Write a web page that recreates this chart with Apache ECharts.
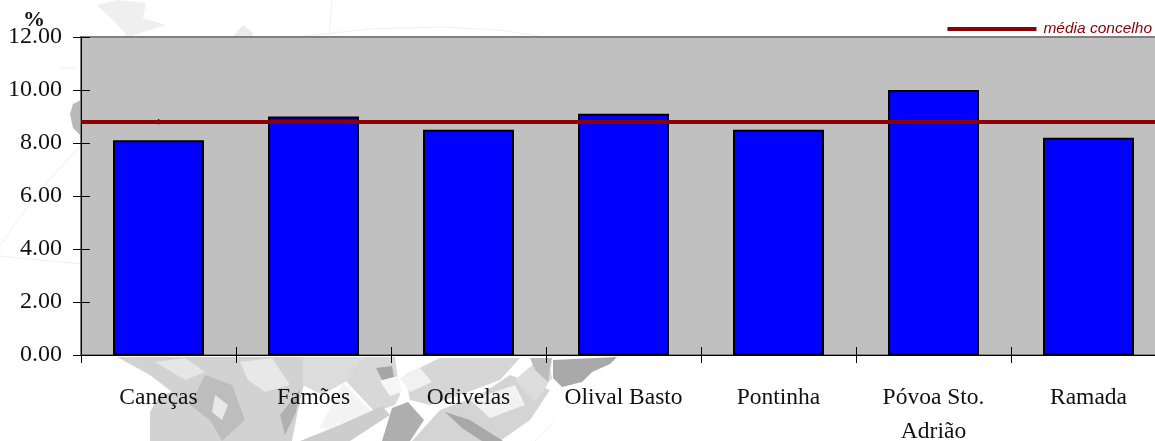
<!DOCTYPE html>
<html>
<head>
<meta charset="utf-8">
<style>html,body{margin:0;padding:0;background:#fff}#chart{width:1155px;height:441px}</style>
<script src="https://cdn.jsdelivr.net/npm/echarts@6/dist/echarts.min.js"></script>
</head>
<body>
<div id="chart"></div>
<script>
const categories = ['Caneças', 'Famões', 'Odivelas', 'Olival Basto', 'Pontinha', 'Póvoa Sto.\nAdrião', 'Ramada'];
const values = [8.1, 9.0, 8.5, 9.1, 8.5, 10.0, 8.2];
const concelhoMean = 8.8;
const meanName = 'média concelho';
const meanMarker = [8.8, null, null, null, null, null, null];

// Faint parish map behind the chart: [fill, outline points]
const mapPatches = [
  ['#efefef', [[97,5],[118,0],[146,3],[143,18],[166,25],[128,37],[115,22]]],
  ['#ebebeb', [[233,37],[243,25],[253,33],[252,37]]],
  ['#b9b9b9', [[81,100],[73,104],[70,114],[73,128],[81,136]]],
  ['#d2d2d2', [[117,357],[303,357],[305,380],[298,410],[292,441],[150,441],[150,412],[160,395],[172,392],[150,375]]],
  ['#bdbdbd', [[205,375],[232,385],[245,420],[222,441],[210,420],[190,405]]],
  ['#e6e6e6', [[155,362],[185,358],[205,372],[185,380]]],
  ['#e8e8e8', [[215,395],[228,405],[222,420],[212,412]]],
  ['#e8e8e8', [[240,362],[272,358],[290,385],[265,392],[248,380]]],
  ['#b0b0b0', [[280,415],[300,390],[296,412],[285,435]]],
  ['#dcdcdc', [[303,357],[365,357],[345,382],[322,395],[303,385]]],
  ['#f4f4f4', [[343,383],[375,415],[345,430],[320,428]]],
  ['#d8d8d8', [[345,380],[365,357],[395,357],[400,395],[395,405],[375,412]]],
  ['#a6a6a6', [[376,368],[392,366],[394,377],[382,380]]],
  ['#f6f6f6', [[380,381],[398,376],[402,392],[390,396]]],
  ['#aeaeae', [[392,408],[408,402],[424,420],[410,441],[382,441]]],
  ['#cdcdcd', [[300,441],[340,425],[382,406],[390,415],[350,441]]],
  ['#d6d6d6', [[405,375],[440,358],[520,358],[500,380],[460,395],[430,405],[410,400]]],
  ['#f1f1f1', [[400,378],[420,368],[432,382],[410,392]]],
  ['#d4d4d4', [[412,441],[440,410],[480,395],[510,375],[550,390],[530,420],[500,441]]],
  ['#a8a8a8', [[445,412],[470,420],[503,441],[482,441],[462,428]]],
  ['#f2f2f2', [[470,400],[515,385],[525,405],[490,418]]],
  ['#dcdcdc', [[515,380],[538,360],[548,358],[552,378],[535,402]]],
  ['#a9a9a9', [[553,360],[617,357],[610,364],[592,372],[582,382],[562,387],[553,378]]],
  ['#bcbcbc', [[530,358],[552,358],[548,382],[535,370]]]
];
// Thin boundary strokes of the same map
const mapLines = [
  [[0,245],[40,190],[81,145]],
  [[0,256],[81,264]],
  [[296,37],[370,29],[440,27],[500,30],[545,37]],
  [[332,0],[329,37]],
  [[60,68],[75,68]],
  [[555,420],[535,441]]
];

const serifFont = '"Liberation Serif", serif';

const backdrop = [
  ...mapPatches.map(([fill, points]) => ({
    type: 'polygon', z: -10, silent: true,
    shape: { points },
    style: { fill }
  })),
  ...mapLines.map(points => ({
    type: 'polyline', z: -10, silent: true,
    shape: { points },
    style: { stroke: '#f0f0f0', lineWidth: 1, fill: null }
  }))
];

const chart = echarts.init(document.getElementById('chart'), null, { renderer: 'canvas' });
chart.setOption({
  animation: false,
  backgroundColor: '#fff',
  graphic: backdrop,
  grid: {
    left: 81, right: -11, top: 37, bottom: 86,
    outerBoundsMode: 'none',
    show: true, backgroundColor: '#c0c0c0', borderColor: '#808080', borderWidth: 2
  },
  legend: {
    right: -2, top: 16,
    itemWidth: 89, itemHeight: 4, itemGap: 0,
    selectedMode: false,
    data: [{ name: meanName, icon: 'rect' }],
    textStyle: { fontFamily: '"Liberation Sans", sans-serif', fontStyle: 'italic', fontSize: 15.5, color: '#8b0000', padding: [0, 0, 3, 2] }
  },
  xAxis: [
    {
      type: 'category', data: categories, boundaryGap: true,
      axisLine: { lineStyle: { color: '#000', width: 1 } },
      axisTick: { show: true, inside: false, length: 8, alignWithLabel: false, lineStyle: { color: '#000' } },
      axisLabel: { fontFamily: serifFont, fontSize: 23.5, color: '#111', margin: 26, lineHeight: 34, interval: 0 },
      splitLine: { show: false }
    },
    {
      type: 'category', data: categories, position: 'bottom', boundaryGap: true,
      axisLine: { show: false },
      axisTick: { show: true, inside: true, length: 8, lineStyle: { color: '#000' } },
      axisLabel: { show: false },
      splitLine: { show: false }
    }
  ],
  yAxis: [
    {
      type: 'value', min: 0, max: 12, interval: 2,
      name: '%', nameLocation: 'end', nameGap: 17, nameMoveOverlap: false,
      nameTextStyle: { fontFamily: serifFont, fontWeight: 'bold', fontSize: 22, color: '#111', align: 'right', verticalAlign: 'middle', padding: [0, 36, 0, 0] },
      axisLine: { show: true, lineStyle: { color: '#000', width: 1 } },
      axisTick: { show: true, inside: false, length: 8, lineStyle: { color: '#000' } },
      axisLabel: { fontFamily: serifFont, fontSize: 24, color: '#111', margin: 19, formatter: v => v.toFixed(2) },
      splitLine: { show: false }
    },
    {
      type: 'value', min: 0, max: 12, interval: 2, position: 'left',
      axisLine: { show: false },
      axisTick: { show: true, inside: true, length: 9, lineStyle: { color: '#000' } },
      axisLabel: { show: false },
      splitLine: { show: false }
    }
  ],
  series: [
    {
      type: 'bar', data: values, barWidth: 91, silent: true,
      itemStyle: { color: '#0000ff', borderColor: '#000', borderWidth: 2 }
    },
    {
      name: meanName, type: 'line', data: meanMarker, silent: true,
      symbol: 'diamond', symbolSize: 6, showSymbol: true,
      lineStyle: { color: '#8b0000', width: 4 },
      itemStyle: { color: '#8b0000' },
      z: 5,
      markLine: {
        silent: true, symbol: 'none', label: { show: false },
        lineStyle: { color: '#8b0000', width: 4, type: 'solid' },
        data: [{ yAxis: concelhoMean }]
      }
    }
  ]
});
</script>
</body>
</html>
